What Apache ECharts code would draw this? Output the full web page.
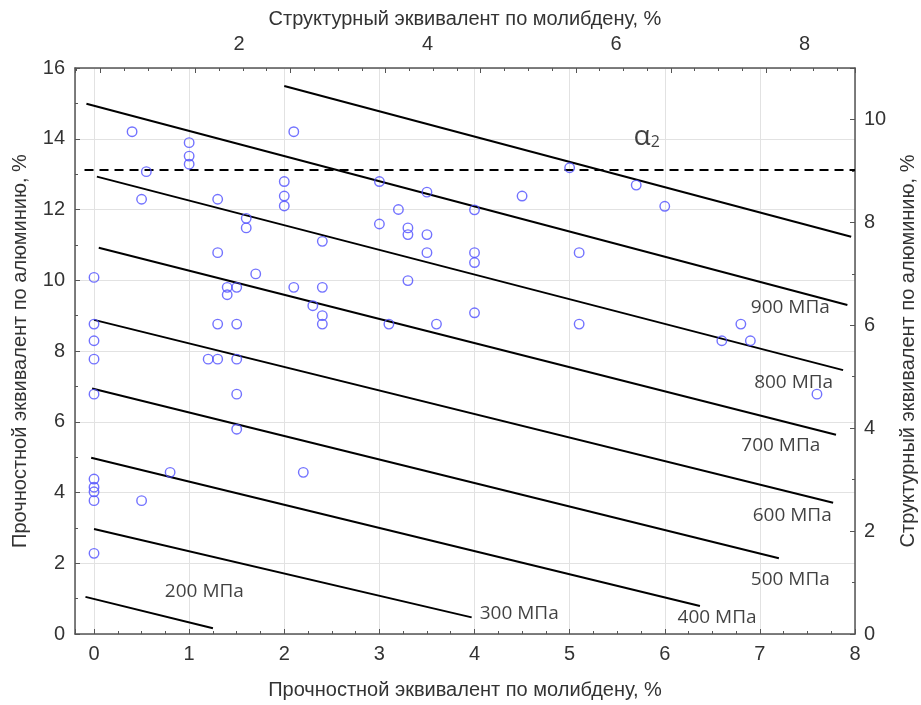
<!DOCTYPE html>
<html><head><meta charset="utf-8">
<script src="https://cdn.jsdelivr.net/npm/echarts@6/dist/echarts.min.js"></script>
<style>html,body{margin:0;padding:0;background:#fff}#c{width:921px;height:705px}</style>
</head><body><div id="c"></div>
<script>
// Scatter points: strength Mo-equivalent (x) vs strength Al-equivalent (y)
const pointsX = [0.40,0.55,0.50,1.00,1.00,1.00,2.10,2.00,2.00,2.00,1.30,1.60,1.60,1.30,2.40,1.70,0.00,1.40,1.40,1.50,
  2.10,2.40,2.30,2.40,2.40,1.30,1.50,0.00,0.00,3.00,3.00,3.20,3.30,3.30,3.50,3.50,3.50,3.30,3.10,3.60,
  4.00,4.00,4.00,4.00,4.50,5.00,5.70,6.00,5.10,5.10,6.80,6.60,6.90,7.60,0.00,1.20,1.30,1.50,0.00,1.50,
  1.50,0.80,2.20,0.50,0.00,0.00,0.00,0.00,0.00];
const pointsY = [14.20,13.07,12.29,13.89,13.51,13.28,14.20,12.79,12.38,12.10,12.29,11.75,11.48,10.78,11.10,10.18,10.08,9.80,9.59,9.80,
  9.80,9.80,9.28,9.00,8.76,8.76,8.76,8.76,8.29,12.79,11.59,12.00,11.48,11.29,12.49,11.29,10.78,9.99,8.76,8.76,
  11.99,10.78,10.50,9.08,12.38,13.18,12.69,12.09,10.78,8.76,8.76,8.29,8.29,6.78,7.77,7.77,7.77,7.77,6.78,6.78,
  5.79,4.57,4.57,3.77,4.38,4.15,4.02,3.77,2.28];

// Iso-strength lines
const isoNames  = ['200 МПа','300 МПа','400 МПа','500 МПа','600 МПа','700 МПа','800 МПа','900 МПа',''];
const isoStartX = [-0.09, 0.00, -0.03, -0.02, 0.00, 0.05, 0.03, -0.08, 2.00];
const isoStartY = [ 1.05, 2.97,  4.98,  6.94, 8.88, 10.92, 12.93, 14.99, 15.49];
const isoEndX   = [ 1.25, 3.97,  6.37,  7.20, 7.77, 7.80, 7.875, 7.92, 7.96];
const isoEndY   = [ 0.16, 0.47,  0.79,  2.14, 3.71, 5.63, 7.46, 9.30, 11.23];

// Label anchors for iso lines (data coordinates)
const isoLabelX = [1.16, 4.47, 6.55, 7.32, 7.34, 7.22, 7.355, 7.32];
const isoLabelY = [1.19, 0.59, 0.45, 1.55, 3.34, 5.34, 7.10, 9.24];

// alpha2 boundary (dashed)
const alphaLevel = 13.12;
const alphaX = [-0.1, 8.0];
const alphaLabelPos = [5.81, 14.06];

// Tick labels
const bottomLabels = [0,1,2,3,4,5,6,7,8];
const leftLabels   = [0,2,4,6,8,10,12,14,16];
const rightLabels  = [0,2,4,6,8,10];
const topLabels    = [2,4,6,8];

const AX = '#555';
const TXT = '#333';
const FONT = '"Liberation Sans", Arial, sans-serif';
const LBL = 20;
const TTL = 20;

const series = [];
for (let i = 0; i < isoStartX.length; i++) {
  series.push({
    type: 'line', xAxisIndex: 0, yAxisIndex: 0, silent: true, symbol: 'none',
    data: [[isoStartX[i], isoStartY[i]], [isoEndX[i], isoEndY[i]]],
    lineStyle: { color: '#000', width: 2 }, z: 3
  });
}
series.push({
  type: 'line', xAxisIndex: 0, yAxisIndex: 0, silent: true, symbol: 'none',
  data: [[alphaX[0], alphaLevel], [alphaX[1], alphaLevel]],
  lineStyle: { color: '#000', width: 2, type: [9, 6] }, z: 3
});
series.push({
  type: 'scatter', xAxisIndex: 0, yAxisIndex: 0, symbol: 'circle', symbolSize: 9.5,
  data: pointsX.map((x, i) => [x, pointsY[i]]),
  itemStyle: { color: 'rgba(255,255,255,0)', borderColor: '#4f4fff', borderWidth: 1.4 }, z: 4
});
series.push({
  type: 'scatter', xAxisIndex: 0, yAxisIndex: 0, symbolSize: 0, silent: true,
  data: isoLabelX.map((x, i) => ({ value: [x, isoLabelY[i]], name: isoNames[i] })),
  label: { show: true, position: 'inside', formatter: '{b}', color: '#111', fontSize: 19, fontFamily: '"Open Sans", "Noto Sans", sans-serif' },
  z: 5
});
series.push({
  type: 'scatter', xAxisIndex: 0, yAxisIndex: 0, symbolSize: 0, silent: true,
  data: [{ value: alphaLabelPos, name: 'α2' }],
  label: { show: true, position: 'inside', formatter: '{a|α}{s|2}', color: '#111',
    rich: { a: { fontSize: 28, fontFamily: '"Open Sans", sans-serif', color: '#111' },
            s: { fontSize: 16, fontFamily: '"Open Sans", sans-serif', color: '#111', padding: [12, 0, 0, 0] } } },
  z: 5
});

const baseLine = { show: true, onZero: false, lineStyle: { color: AX, width: 1.5 } };

const chart = echarts.init(document.getElementById('c'), null, { renderer: 'canvas' });
chart.setOption({
  backgroundColor: '#fff',
  animation: false,
  textStyle: { fontFamily: FONT },
  grid: { left: 75, right: 66, top: 68, bottom: 71, containLabel: false, outerBoundsMode: 'none' },
  xAxis: [
    {
      type: 'value', position: 'bottom', min: -0.2, max: 8, splitNumber: 8,
      axisLine: baseLine,
      axisTick: { show: true, inside: true, length: 5, lineStyle: { color: AX } },
      minorTick: { show: true, splitNumber: 4, length: 3, lineStyle: { color: AX } },
      splitLine: { show: true, lineStyle: { color: '#e2e2e2', width: 1 } },
      axisLabel: { customValues: bottomLabels, fontSize: LBL, color: TXT, margin: 10, fontFamily: FONT },
      name: 'Прочностной эквивалент по молибдену, %', nameLocation: 'middle', nameGap: 46,
      nameTextStyle: { fontSize: TTL, color: TXT, fontFamily: FONT }
    },
    {
      type: 'value', position: 'top', min: -0.265, max: 7.935, splitNumber: 8,
      axisLine: baseLine,
      axisTick: { show: true, inside: true, length: 5, lineStyle: { color: AX } },
      minorTick: { show: true, splitNumber: 4, length: 3, lineStyle: { color: AX } },
      splitLine: { show: false }, axisLabel: { show: false }
    },
    {
      type: 'value', position: 'top', min: 0.26, max: 8.536,
      axisLine: { show: false, onZero: false }, axisTick: { show: false }, splitLine: { show: false },
      axisLabel: { customValues: topLabels, fontSize: LBL, color: TXT, margin: 14, fontFamily: FONT },
      name: 'Структурный эквивалент по молибдену, %', nameLocation: 'middle', nameGap: 38,
      nameTextStyle: { fontSize: TTL, color: TXT, fontFamily: FONT }
    }
  ],
  yAxis: [
    {
      type: 'value', position: 'left', min: 0, max: 16, interval: 2,
      axisLine: baseLine,
      axisTick: { show: true, inside: true, length: 5, lineStyle: { color: AX } },
      minorTick: { show: true, splitNumber: 2, length: 3, lineStyle: { color: AX } },
      splitLine: { show: true, lineStyle: { color: '#e2e2e2', width: 1 } },
      axisLabel: { customValues: leftLabels, fontSize: LBL, color: TXT, margin: 10, fontFamily: FONT },
      name: 'Прочностной эквивалент по алюминию, %', nameLocation: 'middle', nameGap: 45, nameRotate: 90,
      nameTextStyle: { fontSize: TTL, color: TXT, fontFamily: FONT }
    },
    {
      type: 'value', position: 'right', min: 0, max: 11, interval: 2,
      axisLine: baseLine,
      axisTick: { show: true, inside: true, length: 5, lineStyle: { color: AX } },
      minorTick: { show: true, splitNumber: 2, length: 3, lineStyle: { color: AX } },
      splitLine: { show: false },
      axisLabel: { customValues: rightLabels, fontSize: LBL, color: TXT, margin: 9, fontFamily: FONT },
      name: 'Структурный эквивалент по алюминию, %', nameLocation: 'middle', nameGap: 43, nameRotate: 90,
      nameTextStyle: { fontSize: TTL, color: TXT, fontFamily: FONT }
    }
  ],
  series: series
});
</script></body></html>
